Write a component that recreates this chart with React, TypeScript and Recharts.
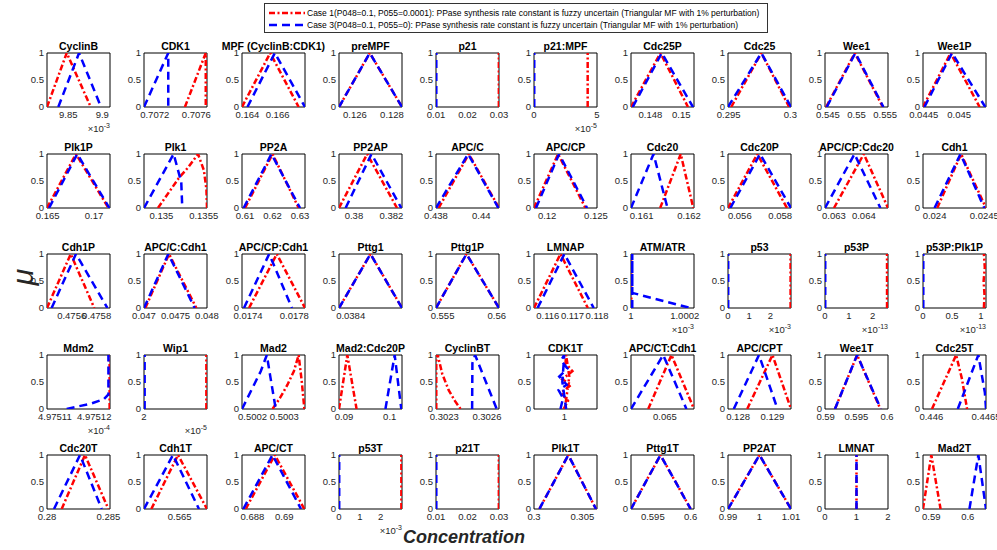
import { LineChart, Line, XAxis, YAxis, ReferenceArea } from "recharts"

const FONT = '"Liberation Sans", Arial, Helvetica, sans-serif'
const INK = "#262626"

const legendLabels = [
  "Case 1(P048=0.1, P055=0.0001): PPase synthesis rate constant is fuzzy uncertain (Triangular MF with 1% perturbation)",
  "Case 3(P048=0.1, P055=0): PPase synthesis rate constant is fuzzy uncertain (Triangular MF with 1% perturbation)",
]

const titles = [
  "CyclinB", "CDK1", "MPF (CyclinB:CDK1)", "preMPF", "p21", "p21:MPF", "Cdc25P", "Cdc25", "Wee1", "Wee1P",
  "Plk1P", "Plk1", "PP2A", "PP2AP", "APC/C", "APC/CP", "Cdc20", "Cdc20P", "APC/CP:Cdc20", "Cdh1",
  "Cdh1P", "APC/C:Cdh1", "APC/CP:Cdh1", "Pttg1", "Pttg1P", "LMNAP", "ATM/ATR", "p53", "p53P", "p53P:Plk1P",
  "Mdm2", "Wip1", "Mad2", "Mad2:Cdc20P", "CyclinBT", "CDK1T", "APC/CT:Cdh1", "APC/CPT", "Wee1T", "Cdc25T",
  "Cdc20T", "Cdh1T", "APC/CT", "p53T", "p21T", "Plk1T", "Pttg1T", "PP2AT", "LMNAT", "Mad2T",
]

const xDomains: [number, number][] = [
  [9.8187, 9.9113], [0.707097, 0.707702], [0.16364, 0.16782], [0.12514, 0.12854], [0.01, 0.03],
  [0, 5], [0.14674, 0.15083], [0.29495, 0.30005], [0.5445, 0.5555], [0.04449, 0.04538],
  [0.16493, 0.17172], [0.134795, 0.135539], [0.6089, 0.6318], [0.379203, 0.382564], [0.438, 0.440782],
  [0.118652, 0.125104], [0.160777, 0.162105], [0.055417, 0.058532], [0.0627, 0.06481], [0.023884, 0.024517],
  [0.475402, 0.475907], [0.047, 0.048], [0.017348, 0.017893], [0.03835, 0.03862], [0.554395, 0.560209],
  [0.115436, 0.118], [1, 1.0002345], [0, 2.98], [0, 2.64], [0, 1.086],
  [4.975108, 4.975124], [2, 2.01], [0.500167, 0.500365], [0.088912, 0.102686], [0.302242, 0.302685],
  [0.99036, 1.01036], [0.064758, 0.065208], [0.127707, 0.129539], [0.589897, 0.600164], [0.445924, 0.4465],
  [0.28, 0.285133], [0.561038, 0.568038], [0.687347, 0.691307], [0, 3.02], [0.01, 0.03],
  [0.3, 0.306519], [0.592121, 0.600441], [0.99, 1.01], [0, 2], [0.58772, 0.60499],
]

const xTickLabels: string[][] = [
  ["9.85", "9.9"], ["0.7072", "0.7076"], ["0.164", "0.166"], ["0.126", "0.128"], ["0.01", "0.02", "0.03"],
  ["0", "5"], ["0.148", "0.15"], ["0.295", "0.3"], ["0.545", "0.55", "0.555"], ["0.0445", "0.045"],
  ["0.165", "0.17"], ["0.135", "0.1355"], ["0.61", "0.62", "0.63"], ["0.38", "0.382"], ["0.438", "0.44"],
  ["0.12", "0.125"], ["0.161", "0.162"], ["0.056", "0.058"], ["0.063", "0.064"], ["0.024", "0.0245"],
  ["0.4756", "0.4758"], ["0.047", "0.0475", "0.048"], ["0.0174", "0.0178"], ["0.0384"], ["0.555", "0.56"],
  ["0.116", "0.117", "0.118"], ["1", "1.0002"], ["0", "1", "2"], ["0", "1", "2"], ["0", "0.5", "1"],
  ["4.97511", "4.97512"], ["2"], ["0.5002", "0.5003"], ["0.09", "0.1"], ["0.3023", "0.3026"],
  ["1"], ["0.065"], ["0.128", "0.129"], ["0.59", "0.595", "0.6"], ["0.446", "0.4465"],
  ["0.28", "0.285"], ["0.565"], ["0.688", "0.69"], ["0", "1", "2"], ["0.01", "0.02", "0.03"],
  ["0.3", "0.305"], ["0.595", "0.6"], ["0.99", "1", "1.01"], ["0", "1", "2"], ["0.59", "0.6"],
]

// exponent shown under the x axis ("x10^n"), "" when none
const xExponents = [
  "-3", "", "", "", "", "-5", "", "", "", "",
  "", "", "", "", "", "", "", "", "", "",
  "", "", "", "", "", "", "-3", "-3", "-13", "-13",
  "-4", "-5", "", "", "", "", "", "", "", "",
  "", "", "", "-3", "", "", "", "", "", "",
]

// membership function outlines, [concentration, mu]
const case1MF: number[][][] = [
  [[9.8187, 0], [9.8477, 1], [9.883, 0]],
  [[0.70749, 0], [0.70757, 0.4], [0.70764, 0.75], [0.70769, 1], [0.70769, 0]],
  [[0.16364, 0], [0.16551, 1], [0.1674, 0]],
  [[0.12514, 0], [0.1268, 1], [0.12854, 0]],
  [[0.02995, 0], [0.02995, 1]],
  [[4.26, 0], [4.26, 1]],
  [[0.14674, 0], [0.14865, 1], [0.15044, 0]],
  [[0.29521, 0], [0.29765, 1], [0.2999, 0]],
  [[0.5447, 0], [0.5497, 1], [0.5546, 0]],
  [[0.04449, 0], [0.04488, 1], [0.04529, 0]],
  [[0.16493, 0], [0.16805, 1], [0.17155, 0]],
  [[0.13496, 0], [0.135093, 0.3], [0.135204, 0.55], [0.135316, 0.75], [0.135433, 1], [0.135502, 0.7], [0.135532, 0.35], [0.135539, 0]],
  [[0.61, 0], [0.62, 1], [0.6295, 0]],
  [[0.379203, 0], [0.380706, 1], [0.382299, 0]],
  [[0.438117, 0], [0.439449, 1], [0.440782, 0]],
  [[0.118652, 0], [0.121117, 1], [0.123923, 0]],
  [[0.161392, 0], [0.161825, 1], [0.16209, 0]],
  [[0.055417, 0], [0.056866, 1], [0.058333, 0]],
  [[0.063, 0], [0.064, 1], [0.06481, 0]],
  [[0.024027, 0], [0.024267, 1], [0.024517, 0]],
  [[0.475402, 0], [0.475592, 1], [0.475781, 0]],
  [[0.047021, 0], [0.047397, 1], [0.047831, 0]],
  [[0.017409, 0], [0.017649, 1], [0.017893, 0]],
  [[0.03835, 0], [0.038485, 1], [0.03862, 0]],
  [[0.554395, 0], [0.557209, 1], [0.560209, 0]],
  [[0.115436, 0], [0.116513, 1], [0.117628, 0]],
  [[1.0000012, 0], [1.0000012, 1]],
  [[2.96, 0], [2.96, 1]],
  [[2.6, 0], [2.6, 1]],
  [[1.05, 0], [1.06, 0.25], [1.045, 0.5], [1.065, 0.75], [1.05, 1]],
  [[4.9751239, 0], [4.9751239, 1]],
  [[2.0099, 0], [2.0099, 1]],
  [[0.500263, 0], [0.500286, 0.2], [0.50031, 0.45], [0.50033, 0.7], [0.500345, 1], [0.500355, 0.5], [0.500363, 0]],
  [[0.088912, 0], [0.09073, 1], [0.092754, 0]],
  [[0.302244, 0], [0.302244, 1], [0.302254, 1], [0.302286, 0.65], [0.302331, 0.35], [0.302375, 0.15], [0.302415, 0]],
  [[0.99976, 0], [1.00116, 0.15], [0.99896, 0.3], [1.00216, 0.45], [0.99936, 0.55], [1.00256, 0.7], [1.00036, 0.85], [1.00056, 1], [1.00156, 0.6], [1.00016, 0]],
  [[0.064881, 0], [0.065047, 1], [0.065208, 0]],
  [[0.128266, 0], [0.129, 1], [0.129539, 0]],
  [[0.591519, 0], [0.595133, 1], [0.598922, 0]],
  [[0.446006, 0], [0.446227, 1], [0.446281, 0.55], [0.446327, 0]],
  [[0.281196, 0], [0.283095, 1], [0.285, 0]],
  [[0.56185, 0], [0.564818, 1], [0.568038, 0]],
  [[0.687581, 0], [0.68941, 1], [0.691263, 0]],
  [[2.99, 0], [2.99, 1]],
  [[0.02995, 0], [0.02995, 1]],
  [[0.300554, 0], [0.303553, 1], [0.306415, 0]],
  [[0.592121, 0], [0.596015, 1], [0.6, 0]],
  [[0.99, 0], [1, 1], [1.01, 0]],
  [[1, 0], [1, 1]],
  [[0.58772, 0], [0.59, 1], [0.592538, 0]],
]

const case3MF: number[][][] = [
  [[9.8353, 0], [9.8658, 1], [9.8981, 0]],
  [[0.707097, 0], [0.70733, 1], [0.70733, 0]],
  [[0.164, 0], [0.16582, 1], [0.16782, 0]],
  [[0.12514, 0], [0.1268, 1], [0.12854, 0]],
  [[0.0101, 0], [0.0101, 1]],
  [[0.02, 0], [0.02, 1]],
  [[0.14685, 0], [0.14874, 1], [0.15076, 0]],
  [[0.29495, 0], [0.29765, 1], [0.30005, 0]],
  [[0.5448, 0], [0.5498, 1], [0.5547, 0]],
  [[0.04451, 0], [0.0449, 1], [0.04537, 0]],
  [[0.16515, 0], [0.16819, 1], [0.17165, 0]],
  [[0.134795, 0], [0.135145, 1], [0.135235, 0.48], [0.135247, 0]],
  [[0.6095, 0], [0.6196, 1], [0.63, 0]],
  [[0.379556, 0], [0.380937, 1], [0.382527, 0]],
  [[0.438, 0], [0.439419, 1], [0.440754, 0]],
  [[0.118852, 0], [0.12122, 1], [0.124091, 0]],
  [[0.160777, 0], [0.161252, 1], [0.161546, 0]],
  [[0.055532, 0], [0.057, 1], [0.058532, 0]],
  [[0.0627, 0], [0.063688, 1], [0.064555, 0]],
  [[0.024, 0], [0.024261, 1], [0.0245, 0]],
  [[0.475439, 0], [0.475634, 1], [0.475886, 0]],
  [[0.047, 0], [0.047386, 1], [0.047804, 0]],
  [[0.017365, 0], [0.017583, 1], [0.01778, 0]],
  [[0.03835, 0], [0.038485, 1], [0.03862, 0]],
  [[0.554395, 0], [0.557209, 1], [0.560209, 0]],
  [[0.115582, 0], [0.116672, 1], [0.117867, 0]],
  [[1.0000047, 0], [1.0000047, 1], [1.0000047, 0.28], [1.000222, 0]],
  [[0.01, 0], [0.01, 1]],
  [[0.01, 0], [0.01, 1]],
  [[0.005, 0], [0.005, 1]],
  [[4.975113, 0], [4.975116, 0.05], [4.9751192, 0.1], [4.9751224, 0.18], [4.9751236, 0.27], [4.9751236, 1]],
  [[2.0001, 0], [2.0001, 1]],
  [[0.500167, 0], [0.500226, 0.7], [0.500245, 1], [0.500256, 0.6], [0.500273, 0]],
  [[0.099062, 0], [0.101085, 1], [0.102534, 0]],
  [[0.302496, 0], [0.302498, 0.85], [0.302517, 1], [0.302669, 0]],
  [[0.99876, 0], [0.99956, 0.2], [0.99816, 0.35], [1.00076, 0.45], [0.99836, 0.6], [1.00096, 0.75], [0.99896, 0.9], [0.99996, 1], [0.99936, 0.5], [1.00056, 0]],
  [[0.064758, 0], [0.064988, 1], [0.065154, 0]],
  [[0.127874, 0], [0.128608, 1], [0.129147, 0]],
  [[0.591519, 0], [0.595133, 1], [0.599, 0]],
  [[0.446242, 0], [0.44643, 1], [0.44649, 0.3], [0.4465, 0]],
  [[0.28057, 0], [0.28269, 1], [0.284455, 0]],
  [[0.561038, 0], [0.564258, 1], [0.567149, 0]],
  [[0.68743, 0], [0.689264, 1], [0.691054, 0]],
  [[0.01, 0], [0.01, 1]],
  [[0.0101, 0], [0.0101, 1]],
  [[0.300554, 0], [0.303553, 1], [0.306415, 0]],
  [[0.592121, 0], [0.596015, 1], [0.6, 0]],
  [[0.99, 0], [1, 1], [1.01, 0]],
  [[1, 0], [1, 1]],
  [[0.600448, 0], [0.6029, 1], [0.60499, 0]],
]

const RED = "#ff0000"
const BLUE = "#0000ff"
const RED_DASH = "6 2.5 2 2.5"
const BLUE_DASH = "8 5"

const BOX_W = 63
const BOX_H = 54
const PAD_L = 44
const AXIS_W = 22
const PAD_R = 30
const PAD_T = 12
const AXIS_H = 24

const boxLeft = (c: number) => Math.round(47 + 97.3 * c)
const boxTop = (r: number) => Math.round(53 + 100.5 * r)

function toRows(pts: number[][]) {
  return pts.map(([x, y]) => ({ x, y }))
}

function Panel({ i }: { i: number }) {
  const r = Math.floor(i / 10)
  const c = i % 10
  const L = boxLeft(c)
  const T = boxTop(r)
  const [lo, hi] = xDomains[i]
  const labels = xTickLabels[i]
  const ticks = labels.map(Number)
  const exp = xExponents[i]

  return (
    <>
      <div
        style={{
          position: "absolute",
          left: L - 40,
          top: T - 13,
          width: BOX_W + 80,
          textAlign: "center",
          font: `bold 10.5px ${FONT}`,
          lineHeight: "12px",
          color: "#000",
          whiteSpace: "nowrap",
        }}
      >
        {titles[i]}
      </div>
      <div style={{ position: "absolute", left: L - PAD_L, top: T - PAD_T }}>
        <LineChart
          width={PAD_L + BOX_W + PAD_R}
          height={PAD_T + BOX_H + AXIS_H}
          margin={{ top: PAD_T, right: PAD_R, bottom: 0, left: PAD_L - AXIS_W }}
        >
          <XAxis
            type="number"
            dataKey="x"
            domain={[lo, hi]}
            ticks={ticks}
            interval={0}
            allowDataOverflow
            height={AXIS_H}
            tickLine={false}
            axisLine={false}
            tickSize={0}
            tickMargin={4}
            tick={{ fontSize: 9.5, fill: INK, fontFamily: FONT }}
            tickFormatter={(v: number) => {
              const k = ticks.findIndex((t) => Math.abs(t - v) < 1e-12)
              return k >= 0 ? labels[k] : String(v)
            }}
          />
          <YAxis
            type="number"
            domain={[0, 1]}
            ticks={[0, 0.5, 1]}
            interval={0}
            allowDataOverflow
            width={AXIS_W}
            tickLine={false}
            axisLine={false}
            tickSize={0}
            tickMargin={3}
            tick={{ fontSize: 9.5, fill: INK, fontFamily: FONT }}
          />
          <Line
            data={toRows(case1MF[i])}
            dataKey="y"
            type="linear"
            stroke={RED}
            strokeWidth={2.5}
            strokeDasharray={RED_DASH}
            dot={false}
            activeDot={false}
            isAnimationActive={false}
          />
          <Line
            data={toRows(case3MF[i])}
            dataKey="y"
            type="linear"
            stroke={BLUE}
            strokeWidth={2.5}
            strokeDasharray={BLUE_DASH}
            dot={false}
            activeDot={false}
            isAnimationActive={false}
          />
          <ReferenceArea
            x1={lo}
            x2={hi}
            y1={0}
            y2={1}
            fill="none"
            fillOpacity={0}
            stroke="#000"
            strokeWidth={1}
            ifOverflow="visible"
          />
        </LineChart>
      </div>
      {exp && (
        <div
          style={{
            position: "absolute",
            left: L + BOX_W - 60,
            top: T + BOX_H + 16,
            width: 60,
            textAlign: "right",
            font: `9.5px ${FONT}`,
            lineHeight: "11px",
            color: INK,
            whiteSpace: "nowrap",
          }}
        >
          ×10
          <span style={{ fontSize: 7, position: "relative", top: -4 }}>{exp}</span>
        </div>
      )}
    </>
  )
}

function Legend() {
  return (
    <div
      style={{
        position: "absolute",
        left: 264,
        top: 3,
        width: 504,
        height: 30,
        boxSizing: "border-box",
        border: "1px solid #333",
        background: "#fff",
      }}
    >
      {legendLabels.map((label, k) => (
        <div
          key={k}
          style={{
            position: "absolute",
            left: 3,
            top: 3 + k * 12,
            height: 12,
            display: "flex",
            alignItems: "center",
            whiteSpace: "nowrap",
          }}
        >
          <svg width={37} height={12}>
            <line
              x1={1}
              x2={37}
              y1={6}
              y2={6}
              stroke={k === 0 ? RED : BLUE}
              strokeWidth={2.5}
              strokeDasharray={k === 0 ? RED_DASH : BLUE_DASH}
            />
          </svg>
          <span style={{ font: `8.5px ${FONT}`, color: "#000", marginLeft: 2 }}>{label}</span>
        </div>
      ))}
    </div>
  )
}

export default function App() {
  return (
    <div
      style={{
        position: "absolute",
        left: 0,
        top: 0,
        width: 997,
        height: 550,
        background: "#fff",
        fontFamily: FONT,
        overflow: "hidden",
      }}
    >
      {titles.map((_, i) => (
        <Panel key={i} i={i} />
      ))}
      <Legend />
      <div
        style={{
          position: "absolute",
          left: 8,
          top: 262,
          width: 30,
          height: 30,
          textAlign: "center",
          font: `italic 30px ${FONT}`,
          lineHeight: "30px",
          color: INK,
          transform: "rotate(-90deg)",
        }}
      >
        μ
      </div>
      <div
        style={{
          position: "absolute",
          left: 403,
          top: 527,
          font: `italic bold 18px ${FONT}`,
          lineHeight: "20px",
          color: INK,
          whiteSpace: "nowrap",
        }}
      >
        Concentration
      </div>
    </div>
  )
}
